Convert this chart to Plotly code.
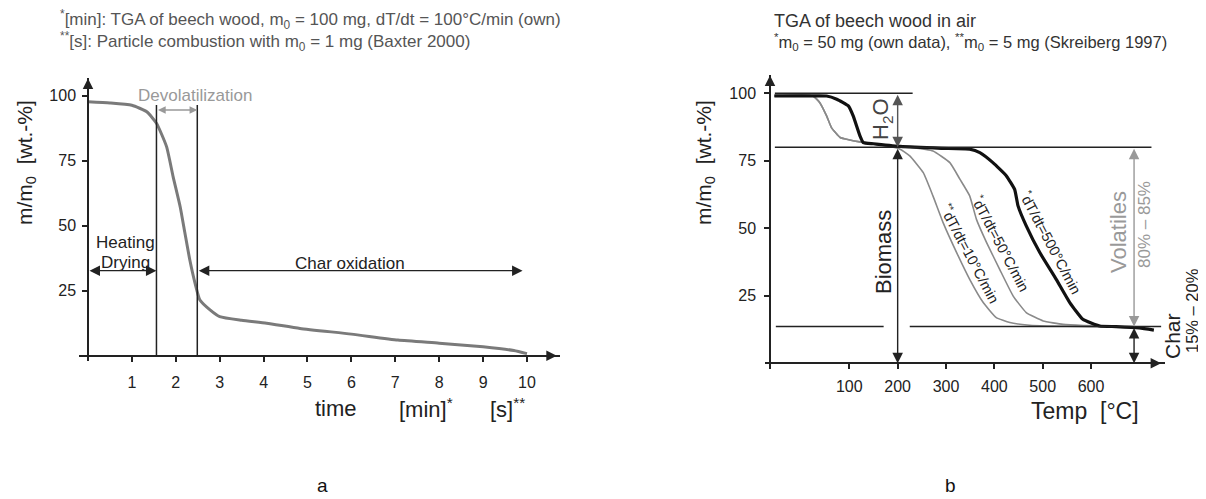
import plotly.graph_objects as go

# ---------------- data ----------------
# panel a: TGA of beech wood (time axis)
time_min = [0, 0.5, 1.0, 1.34, 1.56, 1.79, 1.94, 2.1, 2.21, 2.32, 2.44, 2.55, 2.78, 3.0, 3.5,
            4.07, 4.83, 6.0, 7.06, 8.0, 9.0, 9.7, 10.0]
mass_a = [97.7, 97.2, 96.3, 93.8, 89.4, 80.4, 68.8, 57.3, 47, 36.8, 27.8, 21.4, 17.6, 15, 13.6,
          12.5, 10.5, 8.3, 6.0, 4.8, 3.4, 2.0, 0.8]
phase_bounds = [1.56, 2.49]          # devolatilization start / end [min]
char_ox_end = 9.9
a_xticks = [1, 2, 3, 4, 5, 6, 7, 8, 9, 10]
a_xticklabels = ["1", "2", "3", "4", "5", "6", "7", "8", "9", "10"]

# panel b: TGA in air (temperature axis)
temp_500 = [-55, 0, 53, 74, 98, 108, 122, 129, 150, 205, 290, 349, 370, 397, 425, 442, 449, 466,
            494, 528, 556, 583, 618, 652, 700, 730]
mass_500 = [99, 99, 99, 97.8, 95.3, 91.6, 84.2, 81.7, 81.3, 80.3, 79.6, 79.3, 78, 74.3, 69.4, 64.4,
            58.3, 50.9, 41, 31.1, 22.5, 16.3, 13.8, 13.6, 13.1, 12.3]
temp_50 = [-55, 25, 39, 53, 63, 81, 101, 122, 160, 205, 225, 273, 308, 329, 349, 363, 384, 411,
           439, 466, 501, 542, 584, 650]
mass_50 = [99, 99, 96.5, 91.6, 87.3, 83.6, 82.7, 82, 81, 80.2, 79.9, 78.6, 74.3, 68.1, 62, 53.3,
           44.7, 34.8, 24.9, 18.8, 15.7, 14.4, 14, 13.8]
temp_10 = [-55, 25, 39, 53, 63, 81, 101, 122, 160, 205, 225, 253, 273, 294, 322, 349, 377, 404,
           432, 473, 520, 580, 650]
mass_10 = [99, 99, 96.5, 91.6, 87.3, 83.6, 82.7, 82, 81, 79.3, 76.8, 70.6, 62, 52.1, 41, 31.1,
           22.5, 16.9, 15.1, 14.1, 13.8, 13.6, 13.5]
level_start, level_dry, level_char = 100, 80, 13.6
t_h2o = 200
t_vol = 689
b_xticks = [100, 200, 300, 400, 500, 600]
b_xticklabels = ["100", "200", "300", "400", "500", "600"]
yticks = [25, 50, 75, 100]
yticklabels = ["25", "50", "75", "100"]

# ---------------- layout helpers ----------------
OFF = 8                      # default page margin of the html body
W, H = 1206 - OFF, 499 - OFF
FONT = "Liberation Sans, Arial, Helvetica, sans-serif"
DARK = "#222222"
GREY = "#8a8a8a"


def px(x):
    return (x - OFF) / W


def py(y):
    return 1 - (y - OFF) / H


def arrow(x0, y0, x1, y1, xr, yr, color=DARK, both=False, width=1.4, size=1.5):
    d = dict(x=x1, y=y1, ax=x0, ay=y0, xref=xr, yref=yr, axref=xr, ayref=yr, text="",
             showarrow=True, arrowhead=2, arrowsize=size, arrowwidth=width, arrowcolor=color,
             standoff=0, startstandoff=0)
    if both:
        d.update(arrowside="end+start", startarrowhead=2, startarrowsize=size)
    return d


def label(x, y, text, size, color=DARK, angle=0, xanchor="center", yanchor="middle", align="center"):
    return dict(x=x, y=y, xref="paper", yref="paper", text=text, showarrow=False, textangle=angle,
                font=dict(family=FONT, size=size, color=color), xanchor=xanchor, yanchor=yanchor,
                align=align)


fig = go.Figure()

fig.add_trace(go.Scatter(x=time_min, y=mass_a, mode="lines", xaxis="x", yaxis="y",
                         line=dict(color="#7a7a7a", width=3, shape="spline", smoothing=0.5)))
fig.add_trace(go.Scatter(x=temp_10, y=mass_10, mode="lines", xaxis="x2", yaxis="y2",
                         line=dict(color=GREY, width=1.6, shape="spline", smoothing=0.4)))
fig.add_trace(go.Scatter(x=temp_50, y=mass_50, mode="lines", xaxis="x2", yaxis="y2",
                         line=dict(color=GREY, width=1.6, shape="spline", smoothing=0.4)))
fig.add_trace(go.Scatter(x=temp_500, y=mass_500, mode="lines", xaxis="x2", yaxis="y2",
                         line=dict(color="#111111", width=3.2, shape="spline", smoothing=0.4)))

axis_common = dict(showgrid=False, zeroline=False, showline=True, linecolor=DARK, linewidth=1.5,
                   ticks="outside", tickcolor=DARK, tickwidth=1.5,
                   tickfont=dict(family=FONT, size=16, color=DARK), anchor="free")

fig.update_layout(
    width=W, height=H, margin=dict(l=0, r=0, t=0, b=0),
    paper_bgcolor="white", plot_bgcolor="white", showlegend=False,
    xaxis=dict(axis_common, domain=[px(79.2), px(559.9)], range=[-0.2, 10.75],
               position=py(355.7), tickvals=a_xticks, ticktext=a_xticklabels, ticklen=6,
               ticklabelstandoff=6),
    yaxis=dict(axis_common, domain=[py(360.9), py(78)], range=[-2, 106.8],
               position=px(88), tickvals=yticks, ticktext=yticklabels, ticklen=5,
               ticklabelstandoff=3),
    xaxis2=dict(axis_common, domain=[px(765.2), px(1165)], range=[-74, 753],
                position=py(363.3), tickvals=b_xticks, ticktext=b_xticklabels, ticklen=5,
                ticklabelstandoff=4),
    yaxis2=dict(axis_common, domain=[py(368.7), py(74.9)], range=[-2, 106.8],
                position=px(770), tickvals=yticks, ticktext=yticklabels, ticklen=5,
                ticklabelstandoff=5),
)

shapes = []
# panel a: phase boundaries
for xb in phase_bounds:
    shapes.append(dict(type="line", xref="x", yref="y", x0=xb, x1=xb, y0=0, y1=96.4,
                       line=dict(color=DARK, width=1.5)))
# panel b: reference levels
shapes.append(dict(type="line", xref="x2", yref="y2", x0=-54, x1=231, y0=level_start,
                   y1=level_start, line=dict(color=DARK, width=1.4)))
shapes.append(dict(type="line", xref="x2", yref="y2", x0=-54, x1=725, y0=level_dry,
                   y1=level_dry, line=dict(color=DARK, width=1.4)))
shapes.append(dict(type="line", xref="x2", yref="y2", x0=-52, x1=171, y0=level_char,
                   y1=level_char, line=dict(color=DARK, width=1.4)))
shapes.append(dict(type="line", xref="x2", yref="y2", x0=225, x1=745, y0=level_char,
                   y1=level_char, line=dict(color=DARK, width=1.4)))
fig.update_layout(shapes=shapes)

ann = []
# axis arrowheads
ann.append(arrow(0, 98, 0, 106.6, "x", "y"))
ann.append(arrow(10.0, 0, 10.68, 0, "x", "y"))
ann.append(arrow(-64, 98, -64, 106.6, "x2", "y2"))
ann.append(arrow(700, 0, 745, 0, "x2", "y2"))
# panel a phase arrows
ann.append(arrow(0, 32.7, phase_bounds[0], 32.7, "x", "y", both=True))
ann.append(arrow(phase_bounds[1], 32.7, char_ox_end, 32.7, "x", "y", both=True))
ann.append(arrow(phase_bounds[0], 94.5, phase_bounds[1], 94.5, "x", "y", color="#999999",
                 both=True, size=1.1))
# panel b arrows
ann.append(arrow(t_h2o, level_start, t_h2o, level_dry, "x2", "y2", color="#555555", both=True))
ann.append(arrow(t_h2o, level_dry, t_h2o, 0, "x2", "y2", both=True))
ann.append(arrow(t_vol, level_dry, t_vol, level_char, "x2", "y2", color="#999999", both=True))
ann.append(arrow(t_vol, level_char, t_vol, 0, "x2", "y2", both=True))

# texts panel a
ann.append(label(px(58), py(30),
                 "<sup>*</sup>[min]: TGA of beech wood, m<sub>0</sub> = 100 mg, dT/dt = 100°C/min (own)"
                 "<br><sup>**</sup>[s]: Particle combustion with m<sub>0</sub> = 1 mg (Baxter 2000)",
                 17, color="#555555", xanchor="left", align="left"))
ann.append(label(px(195), py(96), "Devolatilization", 17, color="#999999"))
ann.append(label(px(125), py(242), "Heating", 17))
ann.append(label(px(125), py(262), "Drying", 17))
ann.append(label(px(350), py(263), "Char oxidation", 17))
ann.append(label(px(26), py(163), "m/m<sub>0</sub>&nbsp;&nbsp;[wt.-%]", 21, angle=-90))
ann.append(label(px(336), py(408), "time", 22))
ann.append(label(px(426), py(408), "[min]<sup>*</sup>", 22))
ann.append(label(px(507), py(408), "[s]<sup>**</sup>", 22))
ann.append(label(px(322), py(485), "a", 19, color="#111111"))

# texts panel b
ann.append(label(px(772), py(21), "TGA of beech wood in air", 18, color="#333333", xanchor="left"))
ann.append(label(px(772), py(42), "<sup>*</sup>m<sub>0</sub> = 50 mg (own data), <sup>**</sup>m<sub>0</sub> = 5 mg (Skreiberg 1997)",
                 16.5, color="#333333", xanchor="left"))
ann.append(label(px(705), py(163), "m/m<sub>0</sub>&nbsp;&nbsp;[wt.-%]", 21, angle=-90))
ann.append(label(px(882), py(119), "H<sub>2</sub>O", 22, color="#444444", angle=-90))
ann.append(label(px(883), py(252), "Biomass", 22, angle=-90))
ann.append(label(px(1118), py(232), "Volatiles", 22, color="#999999", angle=-90))
ann.append(label(px(1144), py(225), "80% – 85%", 17, color="#999999", angle=-90))
ann.append(label(px(1172), py(336), "Char", 21, angle=-90))
ann.append(label(px(1192), py(311), "15% – 20%", 16.5, angle=-90))
ann.append(label(px(1051), py(242), "<sup>*</sup>dT/dt=500°C/min", 14.5, angle=62))
ann.append(label(px(1001), py(243), "<sup>*</sup>dT/dt=50°C/min", 14.5, angle=62))
ann.append(label(px(970), py(253), "<sup>**</sup>dT/dt=10°C/min", 14.5, angle=62))
ann.append(label(px(1085), py(411), "Temp&nbsp;&nbsp;[°C]", 23))
ann.append(label(px(950), py(485), "b", 19, color="#111111"))

fig.update_layout(annotations=ann)

fig.write_html("out.html")
